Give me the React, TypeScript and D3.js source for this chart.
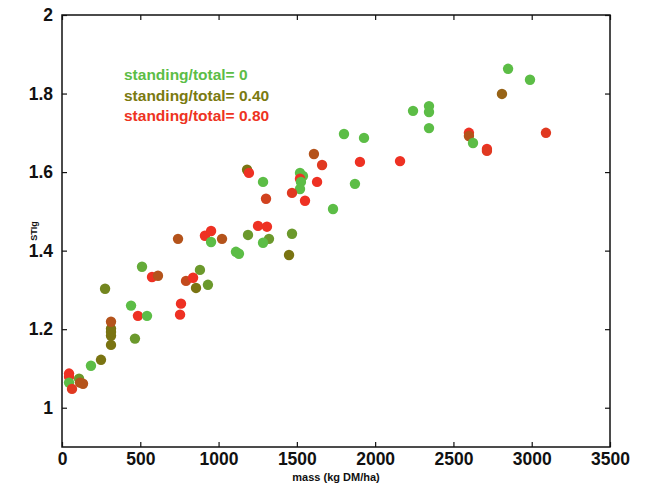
import React, { useEffect, useRef } from "react";
import * as d3 from "d3";

// mass (kg DM/ha), STIg and standing/total ratio for each point
const massValues = [
  45, 45, 45, 64, 109, 115, 134, 185, 249, 313, 313, 313, 313, 313, 275, 441,
  485, 543, 466, 511, 575, 613, 760, 754, 792, 837, 881, 856, 932, 1182, 1194,
  1284, 1303, 1609, 1661, 1520, 1539, 1520, 1526, 1520, 1469, 1552, 1629, 741,
  913, 952, 952, 1022, 1188, 1252, 1309, 1322, 1284, 1111, 1130, 1469, 1450,
  1801, 1929, 1903, 2159, 1871, 1731, 2849, 2989, 2810, 2344, 2242, 2344, 2344,
  2599, 2599, 2625, 2714, 2714, 3091,
];
const stiValues = [
  1.087, 1.079, 1.064, 1.048, 1.074, 1.064, 1.061, 1.107, 1.122, 1.16, 1.183,
  1.193, 1.201, 1.219, 1.303, 1.26, 1.234, 1.234, 1.176, 1.359, 1.333, 1.336,
  1.265, 1.237, 1.323, 1.331, 1.351, 1.305, 1.313, 1.606, 1.598, 1.575, 1.532,
  1.646, 1.618, 1.598, 1.59, 1.583, 1.575, 1.557, 1.547, 1.527, 1.575, 1.43,
  1.438, 1.45, 1.422, 1.43, 1.44, 1.463, 1.461, 1.43, 1.42, 1.397, 1.392,
  1.443, 1.389, 1.697, 1.687, 1.626, 1.628, 1.57, 1.506, 1.863, 1.835, 1.799,
  1.768, 1.756, 1.753, 1.712, 1.7, 1.692, 1.674, 1.659, 1.654, 1.7,
];
const ratioValues = [
  0.8, 0.8, 0, 0.75, 0.2, 0.6, 0.6, 0, 0.4, 0.4, 0.4, 0.4, 0.4, 0.6, 0.3, 0,
  0.8, 0, 0.2, 0.1, 0.8, 0.6, 0.8, 0.8, 0.65, 0.8, 0.2, 0.4, 0.2, 0.4, 0.8, 0,
  0.7, 0.6, 0.75, 0, 0, 0.8, 0, 0, 0.75, 0.8, 0.8, 0.6, 0.8, 0.8, 0, 0.6, 0.2,
  0.8, 0.8, 0.2, 0, 0, 0, 0.2, 0.4, 0, 0, 0.8, 0.8, 0, 0, 0, 0, 0.5, 0, 0, 0,
  0, 0.8, 0.6, 0, 0.8, 0.75, 0.75,
];

const legendLabels = [
  "standing/total= 0",
  "standing/total= 0.40",
  "standing/total= 0.80",
];
const legendColors = ["#5cbd46", "#7a7a10", "#ee3322"];

const xTicks = [0, 500, 1000, 1500, 2000, 2500, 3000, 3500];
const yTicks = [1, 1.2, 1.4, 1.6, 1.8, 2];

const App = () => {
  const chartRef = useRef<SVGSVGElement>(null);

  useEffect(() => {
    const svg = d3.select(chartRef.current);
    svg.selectAll("*").remove();

    const width = 647;
    const height = 492;
    const margin = { top: 15, right: 37, bottom: 45, left: 62 };
    const font = "'Liberation Sans', Arial, sans-serif";

    const x = d3
      .scaleLinear()
      .domain([0, 3500])
      .range([margin.left, width - margin.right]);
    const y = d3
      .scaleLinear()
      .domain([0.9, 2])
      .range([height - margin.bottom, margin.top]);

    const color = d3
      .scaleLinear<string>()
      .domain([0, 0.4, 0.8])
      .range(["#5cbd46", "#7a7412", "#ee3123"]);

    const tickLen = 5;

    // points
    svg
      .append("g")
      .selectAll("circle")
      .data(massValues.map((m, i) => ({ m, s: stiValues[i], r: ratioValues[i] })))
      .join("circle")
      .attr("cx", (d) => x(d.m))
      .attr("cy", (d) => y(d.s))
      .attr("r", 5.2)
      .attr("fill", (d) => color(d.r));

    // box
    svg
      .append("rect")
      .attr("x", x(0))
      .attr("y", y(2))
      .attr("width", x(3500) - x(0))
      .attr("height", y(0.9) - y(2))
      .attr("fill", "none")
      .attr("stroke", "#111")
      .attr("stroke-width", 1.5);

    // axes with inward ticks on all four sides
    const bottom = svg
      .append("g")
      .attr("transform", `translate(0,${y(0.9)})`)
      .call(
        d3
          .axisBottom(x)
          .tickValues(xTicks)
          .tickSize(-tickLen)
          .tickPadding(6)
          .tickFormat(d3.format("d"))
      );
    const top = svg
      .append("g")
      .attr("transform", `translate(0,${y(2)})`)
      .call(d3.axisTop(x).tickValues(xTicks).tickSize(-tickLen).tickFormat(() => ""));
    const left = svg
      .append("g")
      .attr("transform", `translate(${x(0)},0)`)
      .call(
        d3
          .axisLeft(y)
          .tickValues(yTicks)
          .tickSize(-tickLen)
          .tickPadding(9)
          .tickFormat((d) => String(+(+d).toFixed(1)))
      );
    const right = svg
      .append("g")
      .attr("transform", `translate(${x(3500)},0)`)
      .call(d3.axisRight(y).tickValues(yTicks).tickSize(-tickLen).tickFormat(() => ""));

    [bottom, top, left, right].forEach((g) => {
      g.select(".domain").remove();
      g.selectAll("line").attr("stroke", "#111").attr("stroke-width", 1.2);
      g.selectAll("text")
        .attr("fill", "#111")
        .style("font-family", font)
        .style("font-weight", "bold")
        .style("font-size", "17.5px");
    });

    // axis titles
    svg
      .append("text")
      .attr("x", (x(0) + x(3500)) / 2)
      .attr("y", 481)
      .attr("text-anchor", "middle")
      .style("font-family", font)
      .style("font-weight", "bold")
      .style("font-size", "11px")
      .attr("fill", "#111")
      .text("mass (kg DM/ha)");

    svg
      .append("text")
      .attr("transform", `translate(37,${(y(0.9) + y(2)) / 2}) rotate(-90)`)
      .attr("text-anchor", "middle")
      .style("font-family", font)
      .style("font-weight", "bold")
      .style("font-size", "9px")
      .attr("fill", "#111")
      .text("STIg");

    // legend
    svg
      .append("g")
      .selectAll("text")
      .data(legendLabels)
      .join("text")
      .attr("x", 124)
      .attr("y", (d, i) => 80 + i * 20.5)
      .attr("fill", (d, i) => legendColors[i])
      .style("font-family", font)
      .style("font-weight", "bold")
      .style("font-size", "15.5px")
      .text((d) => d);
  }, []);

  return (
    <div style={{ position: "absolute", left: 0, top: 0 }}>
      <svg ref={chartRef} width={647} height={492} style={{ display: "block", background: "#fff" }}></svg>
    </div>
  );
};

export default App;
